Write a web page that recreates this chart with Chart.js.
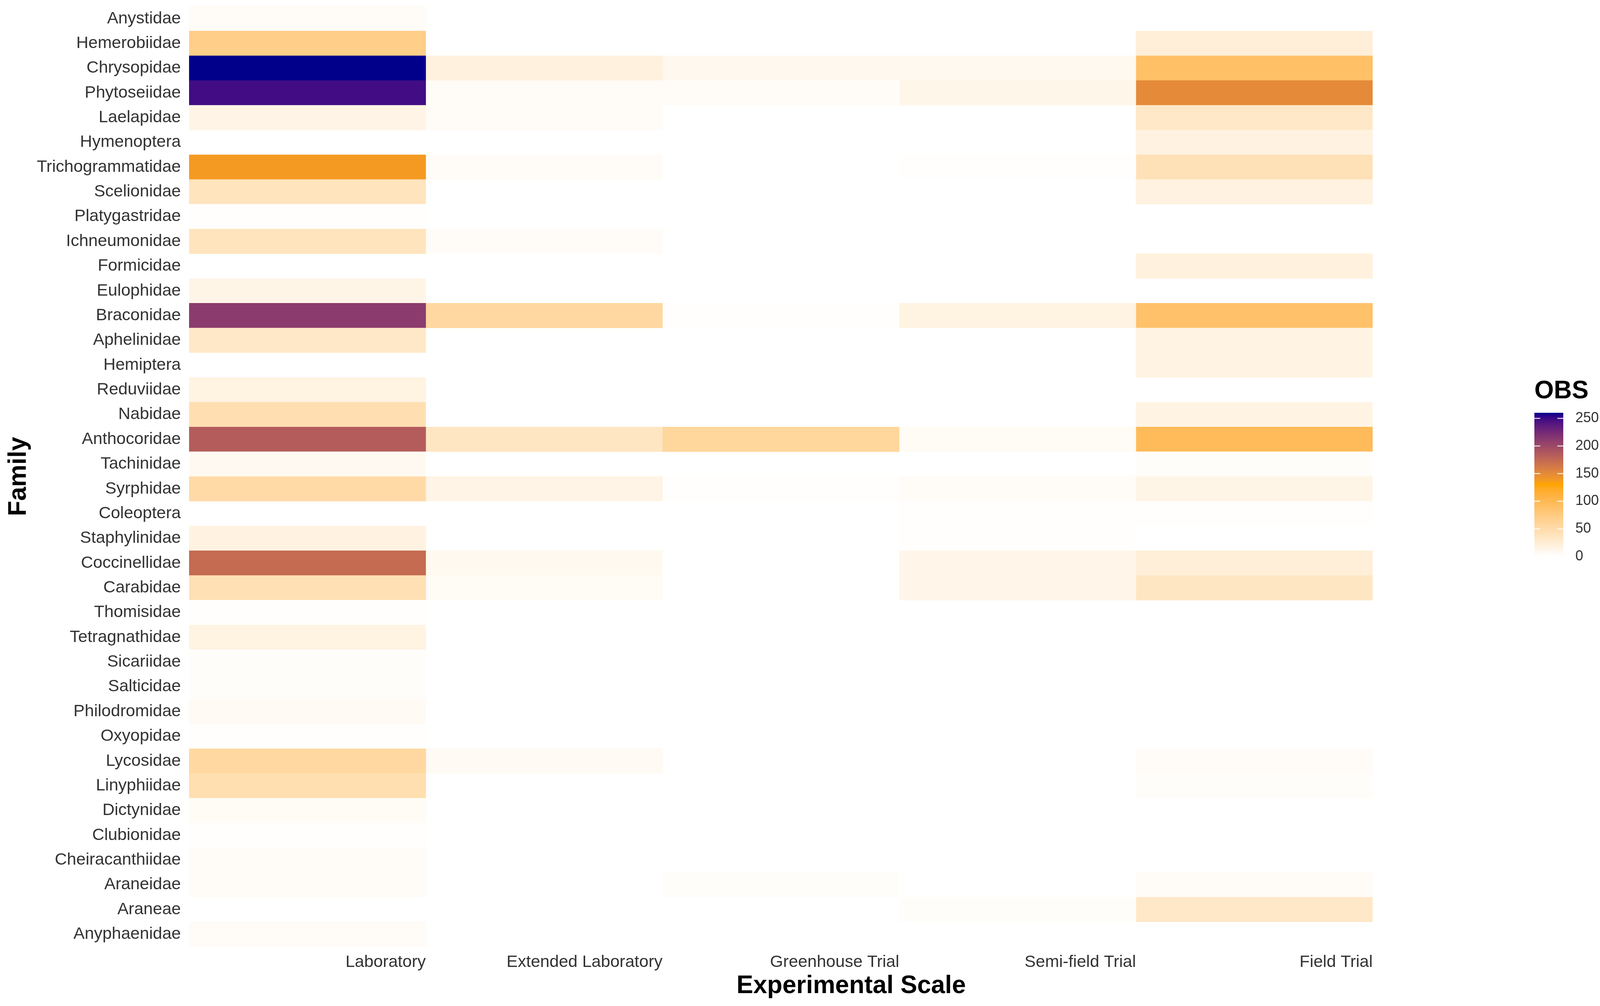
<!DOCTYPE html>
<html>
<head>
<meta charset="utf-8">
<script src="https://cdn.jsdelivr.net/npm/chart.js@4.4.1/dist/chart.umd.min.js"></script>
<style>
  html, body { margin: 0; padding: 0; background: #fff; }
  canvas { display: block; }
</style>
</head>
<body>
<canvas id="heat" width="4124" height="2576" style="width:4124px;height:2576px"></canvas>
<script>
// Families, top to bottom as in the figure.
const families = [
  "Anystidae", "Hemerobiidae", "Chrysopidae", "Phytoseiidae", "Laelapidae", "Hymenoptera",
  "Trichogrammatidae", "Scelionidae", "Platygastridae", "Ichneumonidae", "Formicidae",
  "Eulophidae", "Braconidae", "Aphelinidae", "Hemiptera", "Reduviidae", "Nabidae",
  "Anthocoridae", "Tachinidae", "Syrphidae", "Coleoptera", "Staphylinidae", "Coccinellidae",
  "Carabidae", "Thomisidae", "Tetragnathidae", "Sicariidae", "Salticidae", "Philodromidae",
  "Oxyopidae", "Lycosidae", "Linyphiidae", "Dictynidae", "Clubionidae", "Cheiracanthiidae",
  "Araneidae", "Araneae", "Anyphaenidae"
];
const scaleNames = ["Laboratory", "Extended Laboratory", "Greenhouse Trial", "Semi-field Trial", "Field Trial"];

// OBS per family (same order as families); null = no tile.
const laboratory  = [5, 70, 260, 248, 15, null, 138, 38, 1, 38, null, 14, 211, 33, null, 17, 45, 185, 8, 52, null, 18, 173, 44, 1, 17, 3, 3, 7, 1, 55, 47, 6, 1, 5, 5, null, 5];
const extendedLab = [null, null, 20, 5, 5, null, 4, null, null, 4, null, null, 56, null, null, null, null, 35, null, 15, null, null, 9, 6, null, null, null, null, null, null, 7, null, null, null, null, null, null, null];
const greenhouse  = [null, null, 10, 4, null, null, null, null, null, null, null, null, 2, null, null, null, null, 58, null, 2, null, null, null, null, null, null, null, null, null, null, null, null, null, null, null, 3, null, null];
const semiField   = [null, null, 9, 12, null, null, 1, null, null, null, null, null, 17, null, null, null, null, 6, null, 4, 1, 1, 13, 13, null, null, null, null, null, null, null, null, null, null, null, null, 3, null];
const fieldTrial  = [null, 22, 90, 150, 33, 18, 42, 18, null, null, 20, null, 88, 16, 16, null, 16, 97, 3, 14, 2, null, 22, 35, null, null, null, null, null, null, 4, 3, null, null, null, 4, 32, null];

const legendTicks = [0, 50, 100, 150, 200, 250];
const obsMax = 260;
const colorStops = ["#FFFFFF", "#FFA500", "#00008B"];   // low, mid, high (Lab interpolation)

// --- colour scale: white -> orange -> darkblue, interpolated in CIE Lab like ggplot ---
function toLin(c) { c /= 255; return c <= 0.04045 ? c / 12.92 : Math.pow((c + 0.055) / 1.055, 2.4); }
function toSrgb(c) {
  const v = c <= 0.0031308 ? 12.92 * c : 1.055 * Math.pow(c, 1 / 2.4) - 0.055;
  return Math.round(Math.max(0, Math.min(1, v)) * 255);
}
function hexToLab(hex) {
  const n = parseInt(hex.slice(1), 16);
  const R = toLin(n >> 16 & 255), G = toLin(n >> 8 & 255), B = toLin(n & 255);
  const X = (0.4124 * R + 0.3576 * G + 0.1805 * B) / 0.95047;
  const Y = (0.2126 * R + 0.7152 * G + 0.0722 * B);
  const Z = (0.0193 * R + 0.1192 * G + 0.9505 * B) / 1.08883;
  const f = t => t > 0.008856 ? Math.cbrt(t) : 7.787 * t + 16 / 116;
  const fx = f(X), fy = f(Y), fz = f(Z);
  return [116 * fy - 16, 500 * (fx - fy), 200 * (fy - fz)];
}
function labToCss([L, a, b]) {
  const fy = (L + 16) / 116, fx = fy + a / 500, fz = fy - b / 200;
  const inv = t => t * t * t > 0.008856 ? t * t * t : (t - 16 / 116) / 7.787;
  const X = inv(fx) * 0.95047, Y = inv(fy), Z = inv(fz) * 1.08883;
  const r =  3.2406 * X - 1.5372 * Y - 0.4986 * Z;
  const g = -0.9689 * X + 1.8758 * Y + 0.0415 * Z;
  const bl = 0.0557 * X - 0.2040 * Y + 1.0570 * Z;
  return `rgb(${toSrgb(r)},${toSrgb(g)},${toSrgb(bl)})`;
}
const labStops = colorStops.map(hexToLab);
function obsColor(v) {
  if (v == null) return "rgba(0,0,0,0)";
  let t = Math.max(0, Math.min(1, v / obsMax)) * (labStops.length - 1);
  const i = Math.min(Math.floor(t), labStops.length - 2);
  t -= i;
  const a = labStops[i], b = labStops[i + 1];
  return labToCss([0, 1, 2].map(k => a[k] + (b[k] - a[k]) * t));
}

const columns = [laboratory, extendedLab, greenhouse, semiField, fieldTrial];
const datasets = columns.map((vals, j) => ({
  label: scaleNames[j],
  data: vals.map(v => v == null ? null : [j, j + 1]),
  backgroundColor: ctx => obsColor(vals[ctx.dataIndex]),
  borderWidth: 0,
  barPercentage: 1,
  categoryPercentage: 1,
  grouped: false
}));

const FONT = "'Liberation Sans', Arial, sans-serif";

// x-axis title + OBS colourbar drawn after the chart
const obsLegend = {
  id: "obsLegend",
  afterDraw(chart) {
    const c = chart.ctx;
    c.save();
    c.fillStyle = "#000";
    c.font = `bold 64px ${FONT}`;
    c.textAlign = "center";
    c.textBaseline = "middle";
    c.fillText("Experimental Scale", 2179, 2525);

    // legend title
    c.textAlign = "left";
    c.textBaseline = "alphabetic";
    c.font = `bold 64px ${FONT}`;
    c.fillText("OBS", 3928, 1020);

    const x0 = 3928, x1 = 4002, top = 1057, bottom = 1425;
    const yOf = v => bottom - v / obsMax * (bottom - top);
    const grad = c.createLinearGradient(0, bottom, 0, top);
    for (let k = 0; k <= 40; k++) grad.addColorStop(k / 40, obsColor(obsMax * k / 40));
    c.fillStyle = grad;
    c.fillRect(x0, top, x1 - x0, bottom - top);

    c.strokeStyle = "rgba(255,255,255,0.85)";
    c.lineWidth = 2.5;
    c.fillStyle = "#333";
    c.font = `36px ${FONT}`;
    c.textBaseline = "middle";
    legendTicks.forEach(v => {
      const y = yOf(v);
      c.beginPath();
      c.moveTo(x0, y); c.lineTo(x0 + 15, y);
      c.moveTo(x1 - 15, y); c.lineTo(x1, y);
      c.stroke();
      c.fillText(String(v), 4033, y);
    });
    c.restore();
  }
};

new Chart(document.getElementById("heat"), {
  type: "bar",
  data: { labels: families, datasets },
  plugins: [obsLegend],
  options: {
    responsive: false,
    animation: false,
    devicePixelRatio: 1,
    indexAxis: "y",
    layout: { padding: { top: 16, right: 610, left: 0, bottom: 0 } },
    plugins: { legend: { display: false }, tooltip: { enabled: false } },
    scales: {
      x: {
        type: "linear",
        min: 0,
        max: 5,
        grid: { display: false, drawTicks: false },
        border: { display: false },
        afterBuildTicks: ax => { ax.ticks = scaleNames.map((s, i) => ({ value: i + 1 })); },
        afterFit: ax => { ax.height = 152; ax.paddingLeft = 0; ax.paddingRight = 0; },
        ticks: {
          align: "end",
          padding: 14,
          autoSkip: false,
          maxRotation: 0,
          color: "#333",
          font: { family: FONT, size: 43 },
          callback: v => scaleNames[v - 1]
        }
      },
      y: {
        grid: { display: false, drawTicks: false },
        border: { display: false },
        afterFit: ax => { ax.width = 484; ax.paddingTop = 0; ax.paddingBottom = 0; },
        ticks: {
          padding: 21,
          autoSkip: false,
          color: "#333",
          font: { family: FONT, size: 43 }
        },
        title: {
          display: true,
          text: "Family",
          color: "#000",
          font: { family: FONT, size: 64, weight: "bold" },
          padding: { top: 10, bottom: 0 }
        }
      }
    }
  }
});
</script>
</body>
</html>
